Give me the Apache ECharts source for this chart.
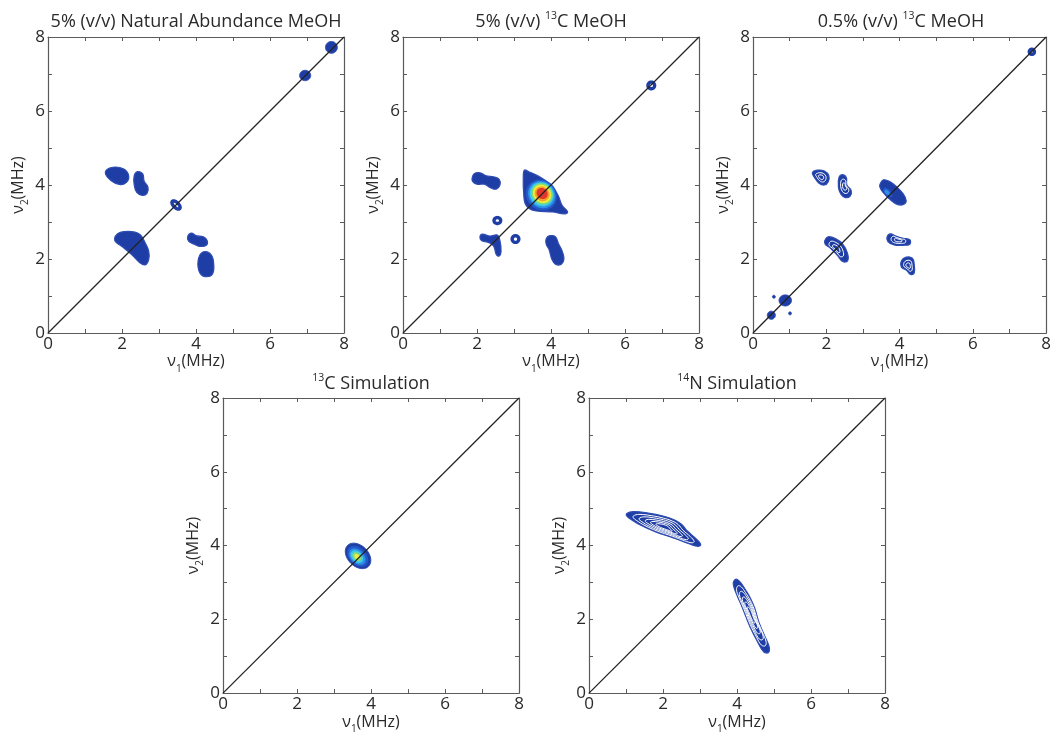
<!DOCTYPE html>
<html><head><meta charset="utf-8">
<script src="https://cdn.jsdelivr.net/npm/echarts@6/dist/echarts.min.js"></script>
<style>html,body{margin:0;padding:0;background:#fff}#c{width:1054px;height:735px}</style>
</head><body><div id="c"></div>
<script>
// ---------- data (MHz) ----------
const axisMin = 0, axisMax = 8, tickStep = 1;
const tickLabelValues = [0, 2, 4, 6, 8];
const titles = [
  '{t|5% (v/v) Natural Abundance MeOH}',
  '{t|5% (v/v) }{sup|13}{t|C MeOH}',
  '{t|0.5% (v/v) }{sup|13}{t|C MeOH}',
  '{sup|13}{t|C Simulation}',
  '{sup|14}{t|N Simulation}'
];
const xName = '{t|ν}{sub|1}{t|(MHz)}';
const yName = '{t|ν}{sub|2}{t|(MHz)}';
const diagonal = [[0, 0], [8, 8]];

// contour outlines (lowest level) as [v1, v2] points
const p1Blobs = [
  [[1.55,4.35],[1.75,4.48],[2.05,4.43],[2.18,4.25],[2.12,4.07],[1.95,4.01],[1.7,4.12]],
  [[2.33,4.25],[2.42,4.36],[2.56,4.3],[2.6,4.1],[2.7,3.95],[2.68,3.78],[2.55,3.72],[2.4,3.8],[2.33,4.0]],
  [[1.8,2.55],[1.88,2.68],[2.05,2.74],[2.35,2.73],[2.5,2.65],[2.62,2.45],[2.72,2.22],[2.72,1.98],[2.62,1.84],[2.48,1.9],[2.26,2.12],[2.0,2.34],[1.84,2.45]],
  [[3.78,2.62],[3.88,2.7],[4.0,2.63],[4.2,2.6],[4.3,2.5],[4.28,2.37],[4.1,2.34],[3.95,2.4],[3.8,2.48]],
  [[4.1,2.1],[4.25,2.2],[4.42,2.1],[4.48,1.85],[4.45,1.6],[4.3,1.52],[4.12,1.6],[4.05,1.85]]
];
const p2Blobs = [
  [[1.87,4.2],[1.93,4.31],[2.08,4.33],[2.25,4.25],[2.45,4.22],[2.6,4.15],[2.62,4.0],[2.52,3.89],[2.38,3.92],[2.2,4.02],[2.0,4.02],[1.88,4.1]],
  [[3.28,4.4],[3.4,4.36],[3.62,4.26],[3.85,4.12],[4.05,3.95],[4.2,3.7],[4.3,3.45],[4.45,3.27],[4.35,3.22],[4.05,3.27],[3.6,3.3],[3.42,3.36],[3.3,3.5],[3.26,3.8],[3.25,4.15]],
  [[2.08,2.6],[2.15,2.67],[2.35,2.62],[2.55,2.65],[2.62,2.5],[2.65,2.2],[2.6,2.08],[2.52,2.12],[2.45,2.35],[2.3,2.45],[2.12,2.5]],
  [[3.87,2.55],[3.97,2.63],[4.12,2.6],[4.2,2.42],[4.3,2.22],[4.35,2.0],[4.28,1.86],[4.12,1.86],[4.02,2.0],[3.95,2.25],[3.87,2.4]]
];
const p3Blobs = [
  [[1.62,4.33],[1.75,4.4],[1.95,4.38],[2.07,4.25],[2.05,4.08],[1.95,4.0],[1.8,4.05],[1.68,4.2]],
  [[2.35,4.22],[2.45,4.28],[2.55,4.2],[2.56,4.0],[2.68,3.85],[2.65,3.7],[2.52,3.66],[2.4,3.75],[2.33,3.95]],
  [[1.96,2.5],[2.05,2.6],[2.25,2.55],[2.45,2.4],[2.58,2.15],[2.58,1.95],[2.45,1.93],[2.3,2.1],[2.1,2.3],[1.97,2.4]],
  [[3.66,2.6],[3.75,2.68],[3.9,2.62],[4.1,2.56],[4.28,2.52],[4.28,2.4],[4.1,2.37],[3.85,2.38],[3.68,2.47]],
  [[4.05,1.95],[4.18,2.05],[4.35,2.02],[4.4,1.85],[4.4,1.62],[4.3,1.58],[4.18,1.7],[4.05,1.78]]
];
const p3Solid = [
  [[3.48,4.05],[3.56,4.14],[3.72,4.1],[3.92,3.95],[4.1,3.76],[4.18,3.58],[4.12,3.48],[3.95,3.47],[3.75,3.6],[3.55,3.8],[3.46,3.95]]
];
const p5Blobs = [
  [[1.02,4.87],[1.2,4.92],[1.6,4.88],[2.0,4.8],[2.3,4.7],[2.5,4.58],[2.65,4.4],[2.9,4.18],[3.02,4.03],[2.95,3.98],[2.7,4.05],[2.3,4.2],[1.8,4.37],[1.4,4.55],[1.12,4.72],[1.02,4.8]],
  [[3.95,3.08],[4.05,3.05],[4.2,2.85],[4.35,2.6],[4.48,2.3],[4.6,1.9],[4.75,1.55],[4.87,1.25],[4.85,1.1],[4.72,1.12],[4.55,1.4],[4.35,1.8],[4.15,2.3],[3.98,2.7],[3.9,2.95]]
];
// spots: [v1, v2, semi-axis a, semi-axis b, angle deg, level] (level 0 = lowest, 1 = open ring, 2..8 = higher levels)
const p1Spots = [
  [7.66,7.72,0.16,0.16,0,0],
  [6.95,6.96,0.15,0.14,0,0],
  [3.46,3.46,0.14,0.07,-45,1]
];
const p2Spots = [
  [6.71,6.69,0.09,0.09,0,1],
  [2.55,3.04,0.09,0.08,0,1],
  [3.04,2.54,0.09,0.09,0,1],
  [3.74,3.73,0.44,0.4,-45,2],
  [3.75,3.74,0.39,0.35,-45,3],
  [3.75,3.75,0.34,0.31,-45,4],
  [3.76,3.76,0.3,0.27,-45,5],
  [3.76,3.76,0.26,0.23,-45,6],
  [3.76,3.76,0.21,0.19,-45,7],
  [3.76,3.77,0.16,0.14,-45,8]
];
const p3Spots = [
  [7.61,7.6,0.07,0.07,0,1],
  [0.88,0.88,0.17,0.15,0,0],
  [0.5,0.48,0.11,0.11,0,0],
  [0.57,0.98,0.04,0.04,0,0],
  [1.01,0.53,0.04,0.04,0,0],
  [3.68,3.8,0.16,0.08,-45,2],
  [3.66,3.8,0.09,0.05,-45,3]
];
const p4Spots = [
  [3.65,3.72,0.4,0.28,-45,0],
  [3.64,3.71,0.33,0.23,-45,2],
  [3.63,3.7,0.26,0.18,-45,3],
  [3.62,3.7,0.2,0.14,-45,4],
  [3.62,3.7,0.14,0.1,-45,5],
  [3.62,3.7,0.08,0.06,-45,6]
];
const p5Spots = [];

// ---------- layout & style ----------
const FONT = '"Open Sans", "Liberation Sans", sans-serif';
const TXT = '#2a2a2a';
const FRAME = '#5a5a5a';
const BLUE = '#1f3ea5';
const EDGE = '#2f4db2';
const LEVEL_COLORS = {0: BLUE, 2: '#2358c9', 3: '#2f8fe6', 4: '#3cc9ea', 5: '#86dc78', 6: '#efee3c', 7: '#f6a12c', 8: '#e2372b'};
const SIZE = 296;
const panels = [
  {left: 48,  top: 37,  blobs: p1Blobs, solid: [], spots: p1Spots, inner: []},
  {left: 403, top: 37,  blobs: p2Blobs, solid: [], spots: p2Spots, inner: []},
  {left: 753, top: 37,  blobs: p3Blobs, solid: p3Solid, spots: p3Spots, inner: [0.62, 0.32]},
  {left: 223, top: 398, blobs: [], solid: [], spots: p4Spots, inner: []},
  {left: 589, top: 398, blobs: p5Blobs, solid: [], spots: p5Spots, inner: [0.82, 0.66, 0.5, 0.36, 0.22]}
];

const rich = {
  t: {fontSize: 16, fontFamily: FONT, color: TXT, lineHeight: 18, fontWeight: 'normal'},
  sub: {fontSize: 10, fontFamily: FONT, color: TXT, lineHeight: 10, verticalAlign: 'bottom', padding: [0, 0, -3, 0], fontWeight: 'normal'},
  sup: {fontSize: 10, fontFamily: FONT, color: TXT, lineHeight: 10, verticalAlign: 'top', fontWeight: 'normal'}
};
const titleRich = {
  t: {fontSize: 18, fontFamily: FONT, color: TXT, lineHeight: 21, fontWeight: 'normal'},
  sup: {fontSize: 10.5, fontFamily: FONT, color: TXT, lineHeight: 10, verticalAlign: 'top', fontWeight: 'normal'}
};

function centroid(pts) {
  let x = 0, y = 0;
  pts.forEach(p => { x += p[0]; y += p[1]; });
  return [x / pts.length, y / pts.length];
}

function blobSeries(g, blobs, inner) {
  return {
    type: 'custom', coordinateSystem: 'cartesian2d', xAxisIndex: 2 * g, yAxisIndex: 2 * g,
    silent: true, clip: true, z: 2, animation: false,
    encode: {x: 0, y: 1},
    data: blobs.map((b, i) => [b[0][0], b[0][1], i]),
    renderItem: function (params, api) {
      const b = blobs[api.value(2)];
      const pts = b.map(p => api.coord(p));
      const children = [{type: 'polygon', shape: {points: pts, smooth: 0.4}, style: {fill: BLUE, stroke: EDGE, lineWidth: 1.2}}];
      const c = centroid(pts);
      inner.forEach(s => {
        children.push({type: 'polygon',
          shape: {points: pts.map(p => [c[0] + (p[0] - c[0]) * s, c[1] + (p[1] - c[1]) * s]), smooth: 0.4},
          style: {fill: 'none', stroke: '#ffffff', lineWidth: 1}});
      });
      return {type: 'group', children: children};
    }
  };
}

function spotSeries(g, spots) {
  return {
    type: 'custom', coordinateSystem: 'cartesian2d', xAxisIndex: 2 * g, yAxisIndex: 2 * g,
    silent: true, clip: true, z: 3, animation: false,
    encode: {x: 0, y: 1},
    data: spots,
    renderItem: function (params, api) {
      const c = api.coord([api.value(0), api.value(1)]);
      const sz = api.size([api.value(2), api.value(3)]);
      const a = api.value(4) * Math.PI / 180;
      const lvl = api.value(5);
      const pts = [];
      for (let k = 0; k < 48; k++) {
        const t = 2 * Math.PI * k / 48;
        const ex = sz[0] * Math.cos(t), ey = sz[1] * Math.sin(t);
        pts.push([c[0] + ex * Math.cos(a) - ey * Math.sin(a), c[1] - (ex * Math.sin(a) + ey * Math.cos(a))]);
      }
      const style = lvl === 1
        ? {fill: '#ffffff', stroke: BLUE, lineWidth: 3.4}
        : {fill: LEVEL_COLORS[lvl], stroke: lvl === 0 ? EDGE : 'none', lineWidth: 1};
      return {type: 'polygon', shape: {points: pts}, style: style};
    }
  };
}

const grid = [], xAxis = [], yAxis = [], series = [];
panels.forEach((p, g) => {
  grid.push({left: p.left, top: p.top, width: SIZE, height: SIZE, containLabel: false});
  const common = {
    type: 'value', gridIndex: g, min: axisMin, max: axisMax, interval: tickStep,
    axisLine: {show: true, onZero: false, lineStyle: {color: FRAME, width: 1.2}},
    axisTick: {show: true, inside: true, length: 4, lineStyle: {color: FRAME}},
    splitLine: {show: false}
  };
  const label = {show: true, fontSize: 17, fontFamily: FONT, color: TXT, margin: 3,
    formatter: v => tickLabelValues.indexOf(v) >= 0 ? String(v) : ''};
  xAxis.push(Object.assign({}, common, {position: 'bottom', axisLabel: label,
    name: xName, nameLocation: 'middle', nameGap: 18, nameTextStyle: {rich: rich}}));
  xAxis.push(Object.assign({}, common, {position: 'top', axisLabel: {show: false}}));
  yAxis.push(Object.assign({}, common, {position: 'left', axisLabel: Object.assign({}, label, {margin: 3}),
    name: yName, nameLocation: 'middle', nameGap: 21, nameRotate: 90, nameTextStyle: {rich: rich}}));
  yAxis.push(Object.assign({}, common, {position: 'right', axisLabel: {show: false}}));

  if (p.blobs.length) series.push(blobSeries(g, p.blobs, p.inner));
  if (p.solid.length) series.push(blobSeries(g, p.solid, []));
  if (p.spots.length) series.push(spotSeries(g, p.spots));
  series.push({type: 'line', xAxisIndex: 2 * g, yAxisIndex: 2 * g, data: diagonal, symbol: 'none',
    silent: true, z: 5, animation: false, lineStyle: {color: '#222222', width: 1.3}});
});

const title = titles.map((t, i) => ({
  text: t, left: panels[i].left + SIZE / 2, top: i < 3 ? 11 : 373, textAlign: 'center', padding: 0,
  textStyle: {rich: titleRich, fontWeight: 'normal'}
}));

const chart = echarts.init(document.getElementById('c'), null, {renderer: 'canvas'});
chart.setOption({animation: false, backgroundColor: '#ffffff', title: title, grid: grid, xAxis: xAxis, yAxis: yAxis, series: series});
</script></body></html>
